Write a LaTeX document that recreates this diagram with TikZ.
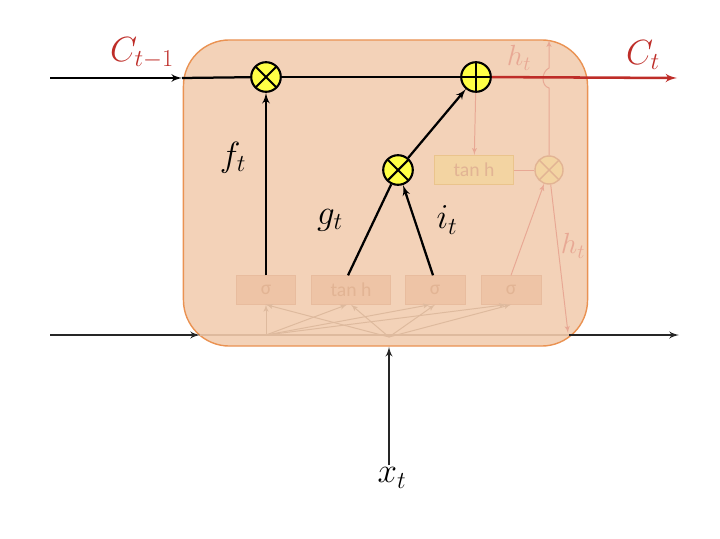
\documentclass[tikz,border=0pt]{standalone}
\usepackage{amsmath}
\usepackage{fontspec}
\setsansfont{Carlito}
\usepackage{xcolor}
\usetikzlibrary{arrows, positioning, calc}

\definecolor{cellfill}{RGB}{243,210,184}
\definecolor{celledge}{RGB}{234,146,82}
\definecolor{opyellow}{RGB}{255,255,70}
\definecolor{statered}{RGB}{190,45,40}
\definecolor{gatefill}{RGB}{238,196,166}
\definecolor{gateedge}{RGB}{232,188,158}
\definecolor{gatetext}{RGB}{226,180,148}
\definecolor{tanhfill}{RGB}{243,212,162}
\definecolor{tanhedge}{RGB}{234,196,140}
\definecolor{fadeline}{RGB}{222,186,158}
\definecolor{fadered}{RGB}{232,168,148}

\begin{document}
\begin{tikzpicture}[x=0.025cm, y=-0.025cm,
    cell/.style={rectangle, draw=celledge, fill=cellfill, line width=1pt, rounded corners=1.15cm, minimum width=10.1cm, minimum height=7.65cm},
    gate/.style={rectangle, draw=gateedge, fill=gatefill, minimum height=0.72cm, inner sep=0pt, text=gatetext, font=\sffamily\fontsize{14}{14}\selectfont},
    mult/.style={circle, draw=black, line width=1.5pt, fill=opyellow, minimum size=0.74cm, inner sep=0pt,
        path picture={\draw[line width=1.5pt] (path picture bounding box.north west) -- (path picture bounding box.south east)
            (path picture bounding box.north east) -- (path picture bounding box.south west);}},
    add/.style={circle, draw=black, line width=1.5pt, fill=opyellow, minimum size=0.74cm, inner sep=0pt,
        path picture={\draw[line width=1.5pt] (path picture bounding box.north) -- (path picture bounding box.south)
            (path picture bounding box.east) -- (path picture bounding box.west);}},
    line/.style={draw, -latex', line width=1.6pt},
    thinline/.style={draw, -latex', line width=1.4pt, black!85},
    fade/.style={draw, -latex', line width=0.7pt, fadeline},
    mathlabel/.style={font=\fontsize{27}{27}\selectfont},
    statelabel/.style={text=statered, font=\fontsize{23}{23}\selectfont}]

    \useasboundingbox (0,0) rectangle (720,538);

    % the cell
    \node [cell] (cell) at (385.5,193) {};

    % faded inner part
    \node [gate, minimum width=1.48cm] (sigf) at (266,290) {σ};
    \node [gate, minimum width=1.98cm] (tanhg) at (351,290) {tan h};
    \node [gate, minimum width=1.5cm] (sigi) at (435,290) {σ};
    \node [gate, minimum width=1.5cm] (sigo) at (511,290) {σ};
    \node [gate, minimum width=1.98cm, fill=tanhfill, draw=tanhedge, line width=1pt] (tanhc) at (474,170) {tan h};
    \node [circle, draw=gatetext, fill=tanhfill, line width=1pt, minimum size=0.7cm, inner sep=0pt,
        path picture={\draw[gatetext, line width=1pt] (path picture bounding box.north west) -- (path picture bounding box.south east)
            (path picture bounding box.north east) -- (path picture bounding box.south west);}] (multo) at (549,170) {};

    \coordinate (hin) at (200,335);
    \coordinate (hout) at (569,335);
    \coordinate (hjoin) at (266,335);
    \coordinate (xjoin) at (389,337);
    \draw [fadeline, line width=0.9pt] (hin) -- (hout);
    \foreach \g in {sigf, tanhg, sigi, sigo} {
        \path [fade] (xjoin) -- (\g.south);
    }
    \path [fade] (hjoin) -- (sigf.south);
    \path [fade] (hjoin) -- ($(tanhg.south)+(-4,0)$);
    \path [fade] (hjoin) -- ($(sigi.south)+(-5,0)$);
    \path [fade] (hjoin) -- ($(sigo.south)+(-5,0)$);

    \coordinate (htop) at (549,40);
    \coordinate (hdown) at (568,333);
    \path [fade, fadered] (sigo.north) -- (multo);
    \path [fade, fadered] (multo) -- (hdown);
    \draw [fadered, line width=0.7pt] (tanhc) -- (multo);
    \draw [fadered, line width=0.7pt, -latex'] (multo.north) -- (549,88) .. controls (541,86) and (541,72) .. (549,68) -- (htop);
    \node [text=fadered, font=\fontsize{22}{22}\selectfont] (hlab1) at (519,58) {$h_t$};
    \node [text=fadered, font=\fontsize{22}{22}\selectfont] (hlab2) at (573,246) {$h_t$};

    % cell state path
    \coordinate (cin) at (50,78);
    \coordinate (cedge) at (182,78);
    \coordinate (cout) at (677,78);
    \node [mult] (multf) at (266,77) {};
    \node [add] (addc) at (476,77) {};
    \node [mult] (multi) at (398,170) {};
    \path [fade, fadered] (addc) -- (tanhc);

    \path [line] (cin) -- (cedge);
    \draw [line width=1.6pt] (cedge) -- (multf);
    \draw [line width=1.6pt] (multf) -- (addc);
    \path [line, statered, line width=1.8pt] (addc) -- (cout);
    \path [line] (sigf.north) -- (multf);
    \draw [line width=1.6pt] ($(tanhg.north)+(-3,0)$) -- (multi);
    \path [line] ($(sigi.north)+(-2,0)$) -- (multi);
    \path [line] (multi) -- (addc);

    % outside
    \coordinate (hprev) at (50,335);
    \coordinate (hnext) at (679,335);
    \coordinate (xin) at (389,465);
    \path [thinline] (hprev) -- (hin);
    \path [thinline] (hout) -- (hnext);
    \path [thinline] (xin) -- (cell.south -| xin);

    % labels
    \node [statelabel] (cprev) at (142,53) {$C_{t-1}$};
    \node [statelabel] (cnow) at (643,55) {$C_t$};
    \node [mathlabel] (flab) at (233,158) {$f_t$};
    \node [mathlabel] (glab) at (330,220) {$g_t$};
    \node [mathlabel] (ilab) at (447,220) {$i_t$};
    \node [mathlabel] (xlab) at (392,478) {$x_t$};
\end{tikzpicture}
\end{document}
